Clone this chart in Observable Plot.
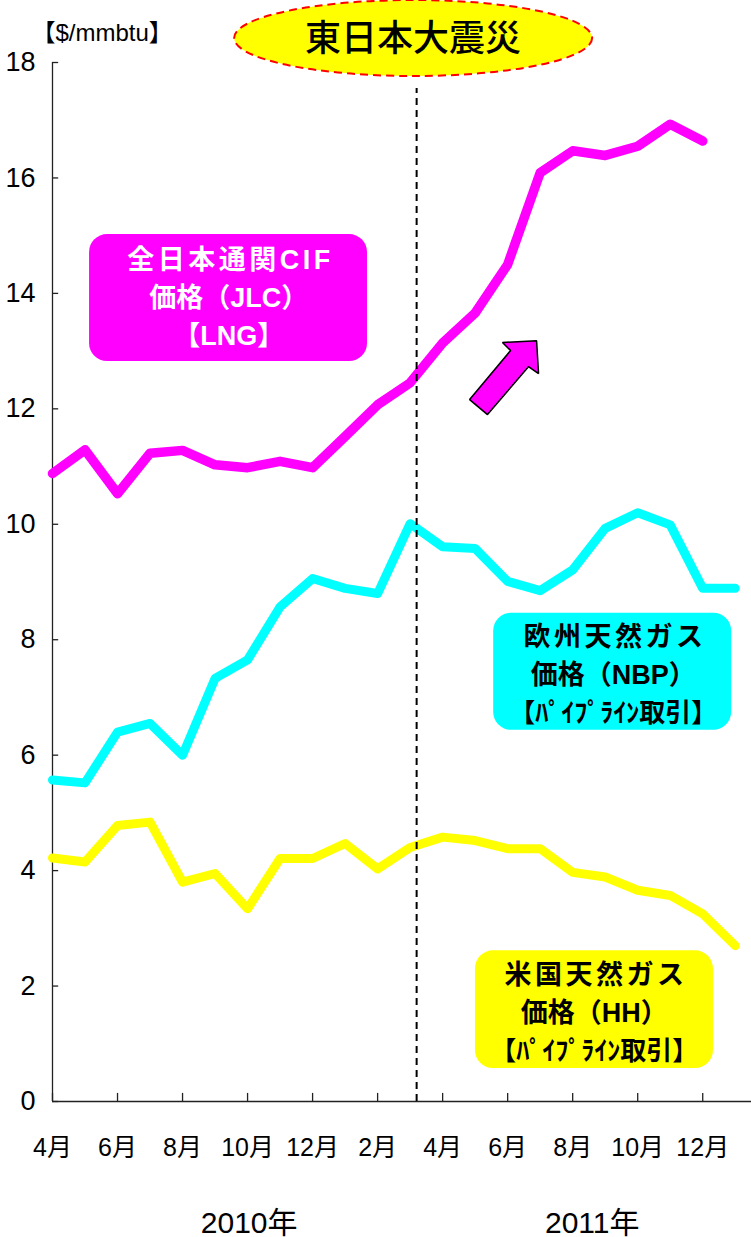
<!DOCTYPE html>
<html><head><meta charset="utf-8">
<script src="https://cdn.jsdelivr.net/npm/d3@7"></script>
<script src="https://cdn.jsdelivr.net/npm/@observablehq/plot@0.6"></script>
<style>html,body{margin:0;padding:0;background:#fff}</style>
</head><body><div id="chart"></div>
<script>
// Months: Apr 2010 .. Jan 2012 (index 0..21)
const months = ["2010-04","2010-05","2010-06","2010-07","2010-08","2010-09","2010-10","2010-11","2010-12","2011-01","2011-02","2011-03","2011-04","2011-05","2011-06","2011-07","2011-08","2011-09","2011-10","2011-11","2011-12","2012-01"];
// 全日本通関CIF価格 (JLC) [LNG], $/mmbtu (to Dec 2011)
const jlc = [10.88, 11.29, 10.53, 11.23, 11.28, 11.03, 10.98, 11.09, 10.98, 11.52, 12.07, 12.45, 13.14, 13.66, 14.50, 16.09, 16.47, 16.39, 16.55, 16.93, 16.64];
// 欧州天然ガス価格 (NBP)
const nbp = [5.57, 5.52, 6.40, 6.55, 6.00, 7.33, 7.65, 8.57, 9.06, 8.89, 8.80, 10.01, 9.61, 9.58, 9.01, 8.85, 9.21, 9.93, 10.20, 9.99, 8.89, 8.89];
// 米国天然ガス価格 (HH)
const hh = [4.22, 4.15, 4.78, 4.84, 3.80, 3.95, 3.34, 4.21, 4.21, 4.47, 4.03, 4.40, 4.58, 4.52, 4.38, 4.38, 3.97, 3.89, 3.66, 3.57, 3.25, 2.70];

const xTickIndex = [0, 2, 4, 6, 8, 10, 12, 14, 16, 18, 20];
const xTickLabels = ["4月","6月","8月","10月","12月","2月","4月","6月","8月","10月","12月"];
const yTicks = [0, 2, 4, 6, 8, 10, 12, 14, 16, 18];
const yearLabels = ["2010年", "2011年"];
const yearIndex = [6.05, 16.6];
const unitLabel = "【$/mmbtu】";
const eventLabel = "東日本大震災";
const eventIndex = 11.2; // 2011-03-11

const jlcLines = ["全日本通関CIF", "価格（JLC）", "【LNG】"];
const nbpLines = ["欧州天然ガス", "価格（NBP）", "【ﾊﾟｲﾌﾟﾗｲﾝ取引】"];
const hhLines = ["米国天然ガス", "価格（HH）", "【ﾊﾟｲﾌﾟﾗｲﾝ取引】"];

// arrow outline in chart coordinates (month index, $/mmbtu)
const arrowX = [14.89, 13.84, 14.09, 12.83, 13.38, 14.64, 14.95];
const arrowY = [13.18, 13.15, 13.01, 12.16, 11.90, 12.73, 12.61];

const toRows = arr => arr.map((v, i) => ({i, v}));
const arrow = arrowX.map((x, k) => ({x, y: arrowY[k]}));

const CJK = '"Noto Sans CJK JP", sans-serif';
const LAT_CJK = '"Liberation Sans", Arial, "Noto Sans CJK JP", sans-serif';
const NARROW = '"Liberation Sans Narrow", "Arial Narrow", "Liberation Sans", "Noto Sans CJK JP", sans-serif';

const lineGap = 0.66;
function boxLines(lines, cx, cy) {
  return lines.map((t, k) => ({x: cx, y: cy - (k - 1) * lineGap, t, k}));
}
const jlcRows = boxLines(jlcLines, 5.42, 13.92);
const nbpRows = boxLines(nbpLines, 17.25, 7.38);
const hhRows = boxLines(hhLines, 16.66, 1.53);

const plot = Plot.plot({
  width: 751,
  height: 1237,
  marginLeft: 52,
  marginRight: 0,
  marginTop: 62,
  marginBottom: 136,
  x: {domain: [0, 21.5], axis: null},
  y: {domain: [0, 18], axis: null},
  style: {background: "white", fontFamily: LAT_CJK, overflow: "visible"},
  marks: [
    // axes
    Plot.ruleX([0], {y1: 0, y2: 18, stroke: "#222", strokeWidth: 1.3}),
    Plot.ruleY([0], {x1: 0, x2: 21.5, stroke: "#222", strokeWidth: 1.3}),
    Plot.ruleY(yTicks, {x1: 0, x2: 0.19, stroke: "#222", strokeWidth: 1.3}),
    Plot.ruleX(xTickIndex, {y1: 0, y2: 0.14, stroke: "#222", strokeWidth: 1.3}),
    Plot.text(yTicks, {x: 0, y: d => d, text: d => String(d), dx: -17, textAnchor: "end", fontSize: 27, fontFamily: NARROW, fill: "#000"}),
    Plot.text(xTickIndex, {x: d => d, y: 0, text: (d, i) => xTickLabels[i], dy: 46, fontSize: 25, fontFamily: NARROW, fill: "#000"}),
    Plot.text(yearLabels, {x: (d, i) => yearIndex[i], y: 0, text: d => d, dy: 122, fontSize: 30, fontFamily: LAT_CJK, fill: "#000"}),
    Plot.text([unitLabel], {frameAnchor: "top-left", text: d => d, dx: -21, dy: -39, textAnchor: "start", fontSize: 24, fontFamily: LAT_CJK, fill: "#000"}),

    // series
    Plot.line(toRows(hh), {x: "i", y: "v", stroke: "#FFFF00", strokeWidth: 9, strokeLinejoin: "round", strokeLinecap: "round"}),
    Plot.line(toRows(nbp), {x: "i", y: "v", stroke: "#00FFFF", strokeWidth: 9, strokeLinejoin: "round", strokeLinecap: "round"}),
    Plot.line(toRows(jlc), {x: "i", y: "v", stroke: "#FF00FF", strokeWidth: 9.5, strokeLinejoin: "round", strokeLinecap: "round"}),

    // event line
    Plot.ruleX([eventIndex], {y1: 0, y2: 17.55, stroke: "#000", strokeWidth: 2, strokeDasharray: "7,5"}),

    // arrow
    Plot.line(arrow, {x: "x", y: "y", curve: "linear-closed", fill: "#FF00FF", stroke: "#000", strokeWidth: 1.5, strokeLinejoin: "miter"}),

    // label boxes
    Plot.rect([0], {x1: 1.14, x2: 9.69, y1: 12.82, y2: 15.02, fill: "#FF00FF", rx: 18}),
    Plot.rect([0], {x1: 13.57, x2: 20.89, y1: 6.43, y2: 8.46, fill: "#00FFFF", rx: 18}),
    Plot.rect([0], {x1: 13.01, x2: 20.33, y1: 0.57, y2: 2.61, fill: "#FFFF00", rx: 18}),

    Plot.text(jlcRows, {x: "x", y: "y", text: "t", fontSize: 27, fontWeight: "bold", fill: "#fff", fontFamily: LAT_CJK}),
    Plot.text(nbpRows.filter(d => d.k < 2), {x: "x", y: "y", text: "t", fontSize: 27, fontWeight: "bold", fill: "#000", fontFamily: LAT_CJK}),
    Plot.text(nbpRows.filter(d => d.k === 2), {x: "x", y: "y", text: "t", fontSize: 26, fontWeight: "bold", fill: "#000", fontFamily: LAT_CJK}),
    Plot.text(hhRows.filter(d => d.k < 2), {x: "x", y: "y", text: "t", fontSize: 27, fontWeight: "bold", fill: "#000", fontFamily: LAT_CJK}),
    Plot.text(hhRows.filter(d => d.k === 2), {x: "x", y: "y", text: "t", fontSize: 26, fontWeight: "bold", fill: "#000", fontFamily: LAT_CJK})
  ]
});

const svg = d3.select(plot);
// wider tracking on first line of each label box
const tracked = new Set([jlcLines[0], nbpLines[0], hhLines[0]]);
svg.selectAll("text").each(function() {
  if (tracked.has(this.textContent)) {
    d3.select(this).style("letter-spacing", "3.5px").attr("dx", 1.75);
  }
});

// event ellipse label above the plot
const ex = plot.scale("x").apply(eventIndex) - 3;
svg.append("ellipse")
  .attr("cx", ex).attr("cy", 38).attr("rx", 179).attr("ry", 38)
  .attr("fill", "#FFFF00").attr("stroke", "#FF0000").attr("stroke-width", 2).attr("stroke-dasharray", "8,5");
svg.append("text")
  .attr("x", ex).attr("y", 38).attr("dy", "0.35em")
  .attr("text-anchor", "middle")
  .style("font-family", CJK).style("font-size", "36px").style("font-weight", 500)
  .attr("fill", "#000").text(eventLabel);

document.getElementById("chart").appendChild(plot);
</script>
</body></html>
